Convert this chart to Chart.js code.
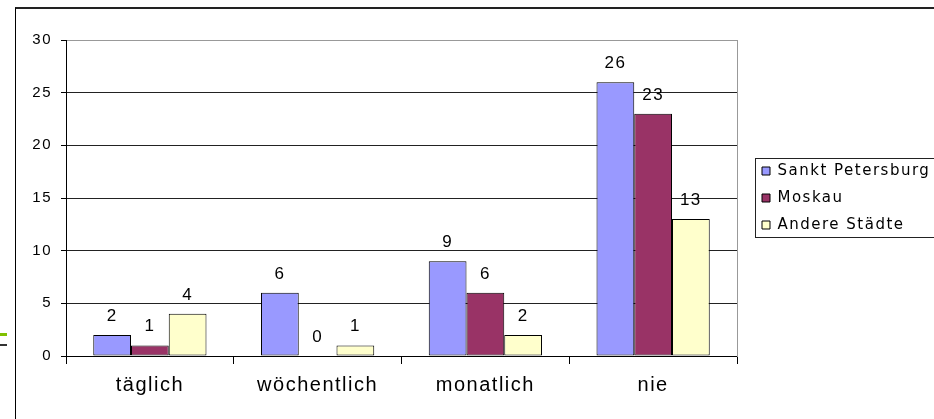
<!DOCTYPE html>
<html>
<head>
<meta charset="utf-8">
<script src="https://cdn.jsdelivr.net/npm/chart.js@4.4.1/dist/chart.umd.min.js"></script>
<style>
  html, body { margin: 0; padding: 0; background: #fff; overflow: hidden; }
  #wrap { position: relative; width: 934px; height: 419px; }
  #frame { position: absolute; left: 15px; top: 7px; width: 960px; height: 460px;
           border-top: 2px solid #222; border-left: 1px solid #000; box-sizing: border-box; }
  #green { position: absolute; left: 0; top: 333px; width: 7px; height: 3px; background: #80c000; }
  #dark { position: absolute; left: 0; top: 344px; width: 7px; height: 2px; background: #333; }
  canvas { position: absolute; left: 0; top: 0; }
</style>
</head>
<body>
<div id="wrap">
  <div id="frame"></div>
  <div id="green"></div>
  <div id="dark"></div>
  <canvas id="c" width="934" height="419"></canvas>
</div>
<script>
const categories = ['täglich', 'wöchentlich', 'monatlich', 'nie'];
const seriesNames = ['Sankt Petersburg', 'Moskau', 'Andere Städte'];
const sanktPetersburg = [2, 6, 9, 26];
const moskau = [1, 0, 6, 23];
const andereStaedte = [4, 1, 2, 13];
const yTicks = [0, 5, 10, 15, 20, 25, 30];
const seriesColors = ['#9999ff', '#993366', '#ffffcc'];

const spacingPlugin = {
  id: 'spacing',
  beforeUpdate(chart) { chart.ctx.letterSpacing = '1.5px'; },
  afterLayout(chart) {
    // let the legend box reach the canvas edge so its labels are not clipped
    const lg = chart.legend;
    if (lg) { lg.right = chart.width + 20; lg.width = lg.right - lg.left; }
  },
  beforeDraw(chart) { chart.ctx.letterSpacing = '1.5px'; }
};

const valueLabels = {
  id: 'valueLabels',
  afterDatasetsDraw(chart) {
    const ctx = chart.ctx;
    ctx.save();
    ctx.font = '17px "Liberation Sans", Arial, sans-serif';
    ctx.fillStyle = '#000';
    ctx.textAlign = 'center';
    ctx.textBaseline = 'alphabetic';
    chart.data.datasets.forEach((ds, i) => {
      const meta = chart.getDatasetMeta(i);
      meta.data.forEach((bar, j) => {
        ctx.fillText(String(ds.data[j]), bar.x, bar.y - 14);
      });
    });
    ctx.restore();
  }
};

const legendBorder = {
  id: 'legendBorder',
  afterDraw(chart) {
    const lg = chart.legend;
    const hb = lg.legendHitBoxes;
    if (!hb || !hb.length) return;
    const first = hb[0], last = hb[hb.length - 1];
    const top = Math.round(first.top + first.height / 2 - 13);
    const bottom = Math.round(last.top + last.height / 2 + 12);
    const left = Math.round(first.left - 7);
    const ctx = chart.ctx;
    ctx.save();
    ctx.strokeStyle = '#222';
    ctx.lineWidth = 1;
    ctx.strokeRect(left + 0.5, top + 0.5, chart.width + 20 - left, bottom - top);
    ctx.restore();
  }
};

const data = {
  labels: categories,
  datasets: [sanktPetersburg, moskau, andereStaedte].map((d, i) => ({
    label: seriesNames[i],
    data: d,
    backgroundColor: seriesColors[i],
    borderColor: '#000',
    borderWidth: 1,
    borderSkipped: false,
    barPercentage: 1,
    categoryPercentage: 0.675
  }))
};

new Chart(document.getElementById('c'), {
  type: 'bar',
  data,
  plugins: [spacingPlugin, valueLabels, legendBorder],
  options: {
    responsive: false,
    animation: false,
    devicePixelRatio: 1,
    layout: { padding: { left: 0, top: 40, bottom: 22, right: 34 } },
    plugins: {
      tooltip: { enabled: false },
      legend: {
        position: 'right',
        align: 'center',
        fullSize: false,
        labels: {
          boxWidth: 8,
          boxHeight: 8,
          padding: 12,
          color: '#000',
          font: { family: '"DejaVu Sans", Verdana, sans-serif', size: 15 }
        }
      }
    },
    scales: {
      x: {
        afterFit(scale) { scale.height = 41; },
        grid: { drawOnChartArea: false, drawTicks: true, tickLength: 8, color: '#000', offset: true },
        border: { color: '#000', width: 1 },
        ticks: {
          color: '#000',
          padding: 9,
          font: { family: '"Liberation Sans", Arial, sans-serif', size: 20 }
        }
      },
      y: {
        min: 0,
        max: 30,
        afterBuildTicks(scale) { scale.ticks = yTicks.map(v => ({ value: v })); },
        afterFit(scale) { scale.width = 66; },
        grid: {
          color: (c) => (c.tick && c.tick.value === yTicks[yTicks.length - 1]) ? '#999' : '#222',
          tickColor: '#000',
          tickLength: 5,
          drawTicks: true
        },
        border: { color: '#000', width: 1 },
        ticks: {
          color: '#000',
          padding: 9,
          font: { family: '"Liberation Sans", Arial, sans-serif', size: 15 }
        }
      },
      y2: {
        position: 'right',
        display: true,
        min: 0,
        max: 30,
        afterFit(scale) { scale.width = 13; },
        grid: { drawOnChartArea: false, drawTicks: false },
        border: { color: '#999', width: 1 },
        ticks: { display: false }
      }
    }
  }
});
</script>
</body>
</html>
